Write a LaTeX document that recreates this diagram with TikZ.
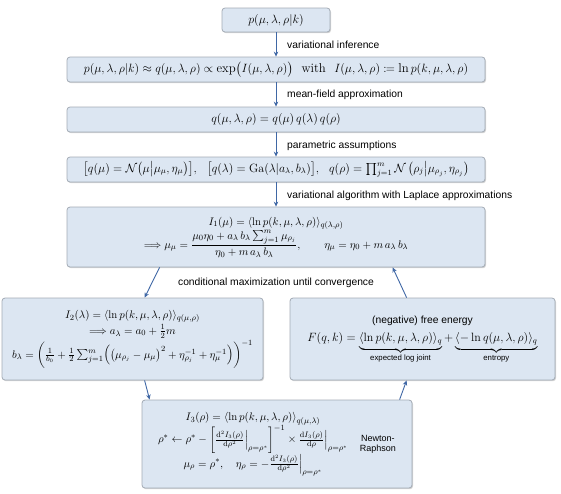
\documentclass[tikz,border=0pt]{standalone}
\usepackage{amsmath,amssymb}
\usepackage{mathtools}
\usepackage{fontspec}
\setsansfont{Liberation Sans}
\usetikzlibrary{arrows.meta,shadows,calc}
\definecolor{boxfill}{HTML}{DCE6F2}
\definecolor{boxdraw}{HTML}{A3ABB5}
\definecolor{arrowc}{HTML}{3F67A5}
\tikzset{
  box/.style={draw=boxdraw, line width=0.8pt, fill=boxfill, rounded corners=3pt,
    drop shadow={shadow xshift=1pt, shadow yshift=-1.2pt, opacity=0.35, fill=gray},
    inner sep=2pt, font=\fontsize{11}{13}\selectfont},
  big/.style={font=\fontsize{12}{14}\selectfont},
  lab/.style={anchor=west, font=\sffamily\fontsize{10.3}{12}\selectfont, inner sep=0pt},
  arr/.style={draw=arrowc, line width=0.9pt, -{Stealth[length=5pt,width=4.5pt]}}
}
\begin{document}
\begin{tikzpicture}[x=1pt,y=-1pt]
\useasboundingbox (0,0) rectangle (561,493);
\node[box, big, minimum width=108pt, minimum height=24pt] (b1) at (276,20) {$p(\mu,\lambda,\rho|k)$};
\node[box, font=\fontsize{12.8}{15}\selectfont, minimum width=418pt, minimum height=25pt] (b2) at (276,69.5)
  {$p(\mu,\lambda,\rho|k)\approx q(\mu,\lambda,\rho)\propto \exp\bigl(I(\mu,\lambda,\rho)\bigr)\ \text{ with }\ I(\mu,\lambda,\rho)\coloneqq \ln p(k,\mu,\lambda,\rho)$};
\node[box, big, minimum width=418pt, minimum height=25pt] (b3) at (276,119.5)
  {$q(\mu,\lambda,\rho)=q(\mu)\,q(\lambda)\,q(\rho)$};
\node[box, big, minimum width=418pt, minimum height=25pt] (b4) at (276,169.5)
  {$\bigl[q(\mu)=\mathcal{N}\bigl(\mu\big|\mu_\mu,\eta_\mu\bigr)\bigr],\ \ \bigl[q(\lambda)=\mathrm{Ga}(\lambda|a_\lambda,b_\lambda)\bigr],\ \ q(\rho)=\textstyle\prod_{j=1}^m\mathcal{N}\left(\rho_j\middle|\mu_{\rho_j},\eta_{\rho_j}\right)$};
\node[box, minimum width=418pt, minimum height=60pt] (b5) at (276,237)
  {$\begin{gathered}
  I_1(\mu)=\langle\ln p(k,\mu,\lambda,\rho)\rangle_{q(\lambda,\rho)}\\[-3pt]
  \Longrightarrow \mu_\mu=\frac{\mu_0\eta_0+a_\lambda\,b_\lambda\sum_{j=1}^m\mu_{\rho_j}}{\eta_0+m\,a_\lambda\,b_\lambda},\qquad \eta_\mu=\eta_0+m\,a_\lambda\,b_\lambda
  \end{gathered}$};
\node[box, minimum width=261pt, minimum height=82pt] (b6) at (132.5,339)
  {$\begin{gathered}
  I_2(\lambda)=\langle\ln p(k,\mu,\lambda,\rho)\rangle_{q(\mu,\rho)}\\[-2pt]
  \Longrightarrow a_\lambda=a_0+\tfrac12 m\\[-2pt]
  b_\lambda=\biggl(\tfrac{1}{b_0}+\tfrac12\textstyle\sum_{j=1}^m\Bigl(\bigl(\mu_{\rho_j}-\mu_\mu\bigr)^2+\eta_{\rho_j}^{-1}+\eta_\mu^{-1}\Bigr)\biggr)^{-1}
  \end{gathered}$};
\node[box, minimum width=265pt, minimum height=82pt] (b7) at (422.5,339)
  {\begin{tabular}{c}
  {\sffamily\fontsize{10.3}{12}\selectfont (negative) free energy}\\[5pt]
  {\fontsize{12}{14}\selectfont $F(q,k)=\underbrace{\langle\ln p(k,\mu,\lambda,\rho)\rangle_q}_{\text{\sffamily\fontsize{7.8}{9}\selectfont expected log joint}}+\underbrace{\langle-\ln q(\mu,\lambda,\rho)\rangle_q}_{\text{\sffamily\fontsize{7.8}{9}\selectfont entropy}}$}
  \end{tabular}};
\node[box, minimum width=270pt, minimum height=88pt] (b8) at (277,444)
  {\begin{tabular}{@{}c@{\hspace{12pt}}c@{}}
  $\begin{gathered}
  I_3(\rho)=\langle\ln p(k,\mu,\lambda,\rho)\rangle_{q(\mu,\lambda)}\\[-3pt]
  \rho^*\leftarrow\rho^*-\left[\tfrac{\mathrm{d}^2I_3(\rho)}{\mathrm{d}\rho^2}\Big|_{\rho=\rho^*}\right]^{-1}\times\tfrac{\mathrm{d}I_3(\rho)}{\mathrm{d}\rho}\Big|_{\rho=\rho^*}\\[-2pt]
  \mu_\rho=\rho^*,\quad \eta_\rho=-\tfrac{\mathrm{d}^2I_3(\rho)}{\mathrm{d}\rho^2}\Big|_{\rho=\rho^*}
  \end{gathered}$ &
  {\sffamily\fontsize{9}{10.5}\selectfont\begin{tabular}{@{}c@{}}Newton-\\Raphson\end{tabular}}
  \end{tabular}};
% labels
\node[lab] (l1) at (287,45) {variational inference};
\node[lab] (l2) at (287,95) {mean-field approximation};
\node[lab] (l3) at (287,146) {parametric assumptions};
\node[lab] (l4) at (287,196) {variational algorithm with Laplace approximations};
\node[lab, anchor=center] (l5) at (276,283) {conditional maximization until convergence};
% arrows
\draw[arr] (b1.south) -- (b2.north);
\draw[arr] (b2.south) -- (b3.north);
\draw[arr] (b3.south) -- (b4.north);
\draw[arr] (b4.south) -- (b5.north);
\draw[arr] ([xshift=93pt]b5.south west) -- ([xshift=143pt]b6.north west);
\draw[arr] ([xshift=143pt]b6.south west) -- ([xshift=8pt]b8.north west);
\draw[arr] ([xshift=258pt]b8.north west) -- ([xshift=117pt]b7.south west);
\draw[arr] ([xshift=117pt]b7.north west) -- ([xshift=326pt]b5.south west);
\end{tikzpicture}
\end{document}
